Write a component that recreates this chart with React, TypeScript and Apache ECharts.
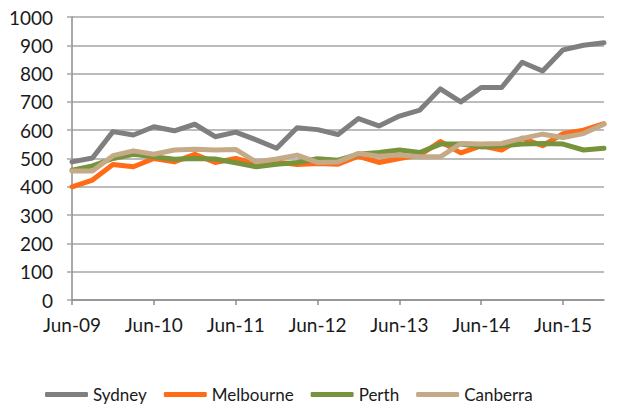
import React, { useEffect, useRef } from "react";
import * as echarts from "echarts";

const categories = [
  "Jun-09", "Sep-09", "Dec-09", "Mar-10",
  "Jun-10", "Sep-10", "Dec-10", "Mar-11",
  "Jun-11", "Sep-11", "Dec-11", "Mar-12",
  "Jun-12", "Sep-12", "Dec-12", "Mar-13",
  "Jun-13", "Sep-13", "Dec-13", "Mar-14",
  "Jun-14", "Sep-14", "Dec-14", "Mar-15",
  "Jun-15", "Sep-15", "Dec-15",
];

const sydney = [488, 502, 595, 583, 612, 598, 621, 577, 593, 566, 536, 609, 602, 585, 641, 615, 650, 671, 746, 700, 751, 751, 840, 809, 884, 900, 909];
const melbourne = [400, 424, 479, 471, 500, 488, 515, 486, 500, 482, 488, 479, 482, 480, 508, 486, 500, 512, 560, 520, 545, 530, 572, 545, 588, 600, 623];
const perth = [459, 474, 500, 515, 506, 497, 500, 498, 485, 471, 480, 486, 499, 494, 515, 521, 530, 521, 551, 551, 541, 545, 551, 553, 551, 530, 536];
const canberra = [456, 456, 510, 527, 515, 530, 533, 530, 532, 488, 498, 512, 486, 488, 518, 508, 512, 506, 506, 553, 551, 553, 571, 586, 574, 588, 621];

const seriesNames = ["Sydney", "Melbourne", "Perth", "Canberra"];
const seriesColors = ["#7f7f81", "#ff6b17", "#77933c", "#c4aa87"];

const FONT = "Lato, 'Open Sans', sans-serif";

export default function App() {
  const ref = useRef<HTMLDivElement>(null);
  useEffect(() => {
    if (!ref.current) return;
    const chart = echarts.init(ref.current, undefined, { renderer: "svg" });
    const data = [sydney, melbourne, perth, canberra];
    chart.setOption({
      animation: false,
      textStyle: { fontFamily: FONT },
      grid: { left: 72, right: 31, top: 17, bottom: 105, containLabel: false },
      legend: {
        left: 40,
        top: 381,
        icon: "roundRect",
        itemWidth: 43,
        itemHeight: 5,
        itemGap: 17,
        textStyle: { fontFamily: FONT, fontSize: 17, color: "#1a1a1a" },
        data: seriesNames,
      },
      xAxis: {
        type: "category",
        data: categories,
        boundaryGap: false,
        axisLine: { lineStyle: { color: "#8c8c8c", width: 1.5 } },
        axisTick: { show: true, interval: 3, length: 5, inside: false, lineStyle: { color: "#8c8c8c", width: 1.5 } },
        axisLabel: { interval: 3, margin: 15, fontSize: 19, color: "#1a1a1a", fontFamily: FONT },
        splitLine: { show: false },
      },
      yAxis: {
        type: "value",
        min: 0,
        max: 1000,
        interval: 100,
        axisLine: { show: true, lineStyle: { color: "#8c8c8c", width: 1.5 } },
        axisTick: { show: true, length: 5, lineStyle: { color: "#a6a6a6", width: 1.5 } },
        axisLabel: {
          margin: 19,
          fontSize: 19,
          color: "#1a1a1a",
          fontFamily: FONT,
          formatter: (v: number) => String(v),
        },
        splitLine: { show: true, lineStyle: { color: "#a6a6a6", width: 1.5 } },
      },
      series: seriesNames.map((name, i) => ({
        name,
        type: "line",
        data: data[i],
        showSymbol: false,
        symbol: "none",
        color: seriesColors[i],
        lineStyle: { width: 5, color: seriesColors[i], cap: "round", join: "round" },
      })),
    });
    return () => chart.dispose();
  }, []);
  return <div ref={ref} style={{ width: 635, height: 405, position: "absolute", left: 0, top: 0 }} />;
}
